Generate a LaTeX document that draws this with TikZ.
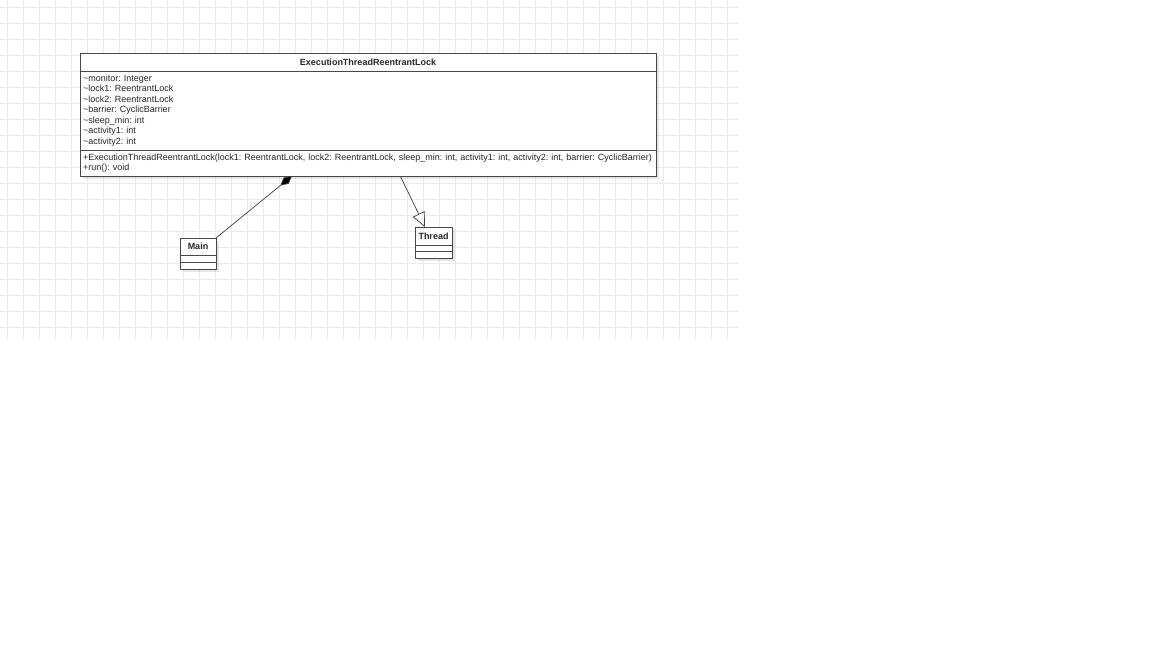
\documentclass[tikz,border=0pt]{standalone}
\usepackage{fontspec}
\setmainfont{Liberation Sans}
\usetikzlibrary{positioning,calc,arrows.meta,shadows}
\frenchspacing

\begin{document}
\begin{tikzpicture}[x=1pt,y=-1pt,
    every node/.style={font=\fontsize{9}{10.5}\selectfont,text=black!85},
    gridline/.style={black!8,line width=0.8pt},
    compartment/.style={draw=black!72,fill=white,line width=0.8pt,inner sep=0pt,outer sep=0pt,anchor=north west,
      drop shadow={opacity=0.2,shadow xshift=2.5pt,shadow yshift=-2.5pt}},
    classname/.style={compartment,font=\fontsize{9}{10.5}\selectfont\bfseries},
    composition/.style={draw=black!75,line width=0.7pt,-{Diamond[length=15pt,width=8pt,fill=black]}},
    generalization/.style={draw=black!75,line width=0.7pt,-{Triangle[open,length=14.5pt,width=13pt,fill=white]}}]
    \useasboundingbox (0,0) rectangle (1152,648);

    % background grid
    \foreach \k in {0,...,45}
      \draw [gridline] ({7.3+16*\k},0) -- ++(0,340);
    \foreach \k in {0,...,20}
      \draw [gridline] (0,{7.3+16*\k}) -- ++(739,0);

    \node (erl-title) [classname,minimum width=576,minimum height=18] at (80,53) {ExecutionThreadReentrantLock};
    \node (erl-attrs) [compartment,minimum width=576,minimum height=79,text width=570,align=left]
      at (erl-title.south west) {%
      \textasciitilde monitor: Integer\\
      \textasciitilde lock1: ReentrantLock\\
      \textasciitilde lock2: ReentrantLock\\
      \textasciitilde barrier: CyclicBarrier\\
      \textasciitilde sleep\_min: int\\
      \textasciitilde activity1: int\\
      \textasciitilde activity2: int};
    \node (erl-methods) [compartment,minimum width=576,minimum height=26,text width=572,align=left]
      at (erl-attrs.south west) {%
      \hspace*{1pt}+ExecutionThreadReentrantLock(lock1: ReentrantLock, lock2: ReentrantLock, sleep\_min: int, activity1: int, activity2: int, barrier: CyclicBarrier)\\
      \hspace*{1pt}+run(): void};

    \node (main-title) [classname,minimum width=36,minimum height=17] at (180,238) {Main};
    \node (main-attrs) [compartment,minimum width=36,minimum height=7] at (main-title.south west) {};
    \node (main-methods) [compartment,minimum width=36,minimum height=7] at (main-attrs.south west) {};

    \node (thread-title) [classname,minimum width=37,minimum height=18] at (415,227) {Thread};
    \node (thread-attrs) [compartment,minimum width=37,minimum height=6.5] at (thread-title.south west) {};
    \node (thread-methods) [compartment,minimum width=37,minimum height=6.5] at (thread-attrs.south west) {};

    \coordinate (comp-end) at ($(erl-methods.south west)!0.368!(erl-methods.south east)$);
    \coordinate (gen-start) at ($(erl-methods.south west)!0.556!(erl-methods.south east)$);
    \coordinate (gen-end) at ($(thread-title.north west)!0.27!(thread-title.north east)$);

    \draw [composition] (main-title.north east) -- (comp-end);
    \draw [generalization] (gen-start) -- (gen-end);
  \end{tikzpicture}
\end{document}
